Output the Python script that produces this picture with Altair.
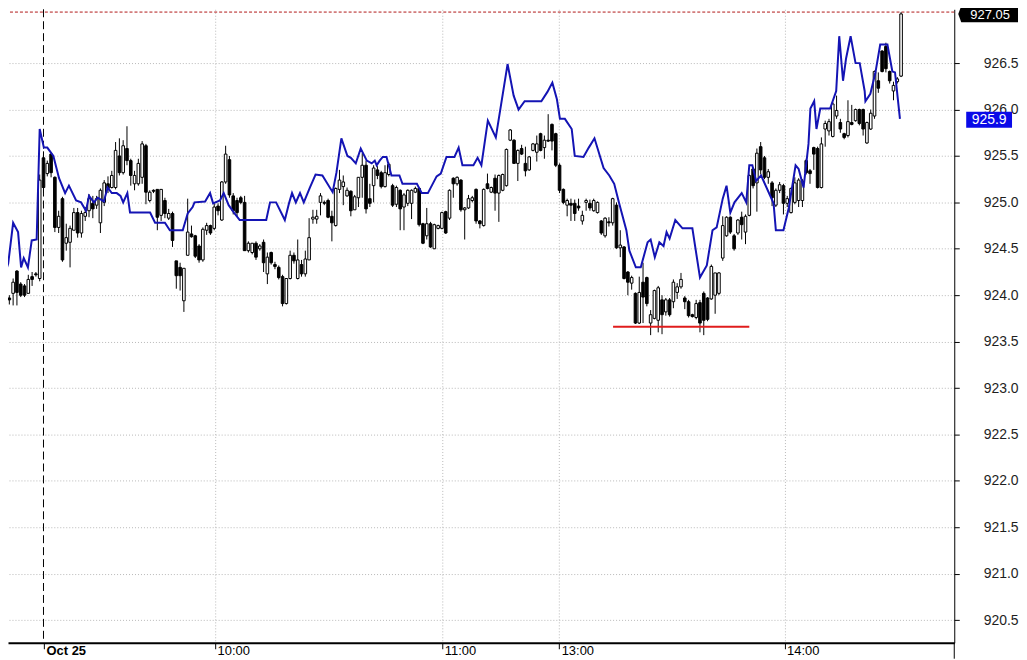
import altair as alt
import pandas as pd

# ---- one-minute candles (index 0 = first visible bar) ----
bar_open = [923.97, 924.02, 924.26, 924.12, 924.10, 924.02, 924.20, 924.23, 924.18, 925.48,
            925.31, 925.52, 925.27, 924.73, 925.04, 924.56, 924.57, 924.70, 924.89, 924.67,
            924.85, 924.91, 924.99, 924.97, 924.78, 925.00, 925.20, 925.16, 925.16, 925.50,
            925.32, 925.58, 925.45, 925.20, 925.20, 925.27, 925.61, 925.02, 925.13, 925.14,
            924.86, 925.02, 924.83, 924.88, 924.37, 924.30, 923.94, 924.43, 924.66, 924.64,
            924.53, 924.38, 924.70, 924.75, 924.72, 924.96, 924.81, 925.22, 925.46, 925.07,
            925.02, 925.05, 925.00, 924.48, 924.46, 924.56, 924.50, 924.57, 924.23, 924.46,
            924.33, 924.30, 924.20, 923.91, 924.18, 924.43, 924.18, 924.33, 924.23, 924.38,
            924.82, 924.82, 925.00, 925.00, 925.02, 924.85, 924.75, 925.14, 925.17, 925.07,
            925.12, 924.92, 925.05, 925.27, 925.40, 925.04, 925.18, 925.35, 925.32, 925.17,
            925.30, 925.18, 924.98, 925.13, 924.95, 924.99, 924.99, 925.11, 925.15, 924.77,
            924.64, 924.77, 924.50, 924.72, 924.72, 924.90, 924.83, 925.26, 925.20, 925.24,
            924.92, 924.94, 925.02, 925.14, 924.80, 924.75, 925.20, 925.11, 925.26, 925.10,
            925.13, 925.18, 925.67, 925.67, 925.42, 925.58, 925.42, 925.35, 925.56, 925.54,
            925.74, 925.59, 925.67, 925.84, 925.74, 925.40, 925.14, 924.97, 924.99, 924.99,
            924.96, 924.80, 925.00, 924.99, 924.91, 924.89, 924.80, 924.64, 924.79, 924.78,
            924.97, 924.51, 924.52, 924.25, 924.13, 924.02, 923.70, 924.14, 924.19, 923.70,
            923.75, 923.73, 923.95, 923.82, 923.95, 923.93, 924.03, 924.09, 923.97, 923.93,
            923.79, 923.76, 923.92, 924.02, 923.97, 923.96, 924.00, 924.02, 924.40, 924.64,
            924.84, 924.64, 924.67, 924.84, 924.68, 924.86, 925.36, 925.21, 925.60, 925.48,
            925.27, 925.21, 924.97, 925.13, 925.18, 924.99, 924.89, 925.00, 925.02, 925.02,
            925.45, 925.34, 925.59, 925.58, 925.16, 925.79, 925.77, 925.71, 925.93, 925.86,
            925.74, 925.72, 925.86, 925.88, 926.00, 926.00, 925.64, 925.79, 925.93, 926.31,
            926.63, 926.68, 926.41, 926.20, 926.30, 926.36]
bar_high = [924.00, 924.18, 924.27, 924.14, 924.12, 924.22, 924.25, 924.25, 925.30, 925.55,
            925.45, 925.54, 925.28, 924.91, 925.06, 924.77, 924.75, 924.94, 924.94, 924.91,
            924.95, 925.09, 925.07, 925.07, 925.15, 925.24, 925.28, 925.34, 925.65, 925.69,
            925.67, 925.82, 925.47, 925.34, 925.47, 925.66, 925.63, 925.13, 925.14, 925.14,
            925.14, 925.05, 924.93, 924.90, 924.37, 924.35, 924.29, 925.04, 924.75, 924.65,
            924.55, 924.73, 924.78, 924.76, 924.99, 924.99, 925.23, 925.61, 925.50, 925.10,
            925.05, 925.07, 925.07, 924.58, 924.56, 924.58, 924.55, 924.60, 924.46, 924.47,
            924.36, 924.32, 924.22, 924.18, 924.48, 924.46, 924.60, 924.38, 924.48, 924.83,
            924.92, 924.92, 925.10, 925.02, 925.04, 924.91, 925.16, 925.35, 925.29, 925.16,
            925.13, 925.08, 925.27, 925.53, 925.45, 925.20, 925.40, 925.39, 925.34, 925.40,
            925.43, 925.20, 925.18, 925.14, 925.10, 925.14, 925.14, 925.17, 925.16, 924.78,
            924.94, 924.79, 924.77, 924.76, 924.90, 924.91, 925.14, 925.27, 925.28, 925.25,
            924.95, 925.08, 925.07, 925.15, 924.81, 925.15, 925.31, 925.17, 925.30, 925.30,
            925.31, 925.58, 925.79, 925.68, 925.57, 925.62, 925.60, 925.50, 925.64, 925.72,
            925.75, 925.72, 925.95, 925.85, 925.75, 925.42, 925.15, 925.04, 925.04, 925.03,
            925.04, 924.91, 925.04, 925.03, 925.04, 925.01, 924.81, 924.84, 924.84, 925.05,
            925.00, 924.70, 924.53, 924.26, 924.21, 924.03, 924.20, 924.35, 924.20, 923.84,
            924.06, 924.10, 924.00, 923.97, 923.97, 924.17, 924.13, 924.24, 923.99, 923.95,
            923.80, 923.95, 923.95, 924.04, 923.98, 924.33, 924.24, 924.25, 924.85, 924.85,
            924.85, 924.66, 924.82, 924.90, 924.87, 925.30, 925.38, 925.58, 925.65, 925.50,
            925.36, 925.23, 925.15, 925.22, 925.20, 925.07, 925.16, 925.27, 925.26, 925.25,
            925.47, 925.36, 925.60, 925.60, 925.70, 925.88, 925.90, 926.08, 926.15, 925.90,
            925.75, 926.10, 926.05, 926.01, 926.01, 926.01, 925.87, 926.00, 926.42, 926.40,
            926.64, 926.72, 926.42, 926.30, 926.35, 927.05]
bar_low = [923.90, 923.89, 923.89, 923.98, 923.98, 924.02, 924.10, 924.20, 924.15, 925.10,
           925.28, 925.27, 924.68, 924.67, 924.36, 924.48, 924.30, 924.70, 924.62, 924.62,
           924.80, 924.84, 924.83, 924.93, 924.67, 924.96, 925.10, 925.15, 925.14, 925.29,
           925.30, 925.40, 925.18, 925.13, 925.18, 925.20, 924.98, 925.00, 925.10, 924.70,
           924.80, 924.83, 924.81, 924.52, 924.07, 924.05, 923.82, 924.43, 924.62, 924.40,
           924.35, 924.36, 924.65, 924.65, 924.70, 924.86, 924.80, 925.20, 925.05, 924.87,
           924.85, 924.98, 924.48, 924.46, 924.44, 924.38, 924.48, 924.25, 924.12, 924.33,
           924.28, 924.17, 923.88, 923.90, 924.17, 924.34, 924.17, 924.20, 924.20, 924.38,
           924.77, 924.77, 924.86, 924.97, 924.83, 924.58, 924.74, 925.10, 924.97, 925.06,
           924.85, 924.92, 924.95, 925.05, 924.88, 924.95, 925.00, 925.25, 925.15, 925.16,
           925.28, 924.95, 924.95, 924.70, 924.70, 924.96, 924.82, 925.10, 924.74, 924.55,
           924.60, 924.51, 924.50, 924.71, 924.71, 924.66, 924.81, 925.05, 925.18, 924.90,
           924.60, 924.93, 925.00, 924.77, 924.72, 924.74, 925.14, 925.10, 924.91, 924.79,
           925.12, 925.17, 925.66, 925.42, 925.23, 925.51, 925.28, 925.34, 925.55, 925.44,
           925.55, 925.47, 925.65, 925.56, 925.38, 925.10, 924.98, 924.85, 924.80, 924.80,
           924.91, 924.76, 924.91, 924.91, 924.90, 924.88, 924.65, 924.62, 924.74, 924.75,
           924.50, 924.41, 924.17, 924.00, 924.06, 923.69, 923.69, 923.70, 923.88, 923.57,
           923.74, 923.60, 923.58, 923.78, 923.77, 923.86, 923.96, 924.07, 923.85, 923.76,
           923.76, 923.74, 923.60, 923.57, 923.72, 923.95, 923.80, 924.00, 924.37, 924.63,
           924.66, 924.48, 924.65, 924.60, 924.55, 924.85, 925.15, 924.90, 925.30, 925.25,
           925.20, 924.96, 924.95, 925.10, 924.87, 924.95, 924.88, 924.98, 924.95, 924.95,
           925.30, 925.20, 925.35, 925.15, 925.15, 925.60, 925.72, 925.70, 925.90, 925.75,
           925.68, 925.70, 925.83, 925.87, 925.83, 925.72, 925.63, 925.78, 925.90, 926.18,
           926.40, 926.40, 926.28, 926.10, 926.28, 926.35]
bar_close = [923.95, 924.14, 924.03, 924.00, 924.00, 924.17, 924.17, 924.22, 925.24, 925.16,
             925.42, 925.32, 924.73, 924.85, 924.38, 924.62, 924.72, 924.89, 924.67, 924.88,
             924.89, 925.04, 924.93, 925.04, 925.13, 925.21, 925.15, 925.29, 925.56, 925.32,
             925.61, 925.45, 925.29, 925.29, 925.42, 925.63, 925.11, 925.11, 925.12, 924.84,
             925.14, 924.88, 924.88, 924.59, 924.21, 924.21, 924.29, 924.68, 924.63, 924.42,
             924.38, 924.71, 924.75, 924.67, 924.95, 924.91, 925.22, 925.52, 925.08, 924.91,
             924.89, 925.00, 924.48, 924.56, 924.56, 924.41, 924.53, 924.35, 924.41, 924.35,
             924.31, 924.19, 923.91, 924.18, 924.43, 924.37, 924.38, 924.23, 924.39, 924.62,
             924.84, 924.85, 925.07, 924.99, 924.84, 924.78, 925.15, 925.24, 925.22, 925.13,
             924.91, 925.06, 925.27, 925.40, 924.93, 924.99, 925.37, 925.29, 925.17, 925.32,
             925.41, 924.97, 925.16, 924.93, 925.08, 925.13, 925.13, 925.15, 924.76, 924.56,
             924.77, 924.52, 924.76, 924.75, 924.89, 924.67, 925.13, 925.20, 925.27, 924.92,
             924.94, 925.04, 925.05, 924.80, 924.77, 925.14, 925.15, 925.16, 925.10, 925.29,
             925.30, 925.57, 925.78, 925.42, 925.56, 925.52, 925.34, 925.49, 925.63, 925.63,
             925.56, 925.67, 925.66, 925.66, 925.40, 925.13, 925.00, 925.02, 924.97, 924.88,
             924.94, 924.86, 925.02, 924.94, 925.02, 925.00, 924.67, 924.83, 924.78, 925.04,
             924.51, 924.54, 924.18, 924.14, 924.19, 923.70, 924.03, 923.98, 923.91, 923.79,
             924.05, 924.08, 923.79, 923.95, 923.79, 924.14, 924.09, 924.17, 923.93, 923.78,
             923.77, 923.91, 923.70, 923.73, 923.74, 924.31, 924.24, 924.24, 924.75, 924.84,
             924.68, 924.50, 924.81, 924.76, 924.85, 925.29, 925.18, 925.53, 925.35, 925.27,
             925.33, 925.05, 925.13, 925.19, 924.99, 925.04, 925.15, 925.21, 925.24, 925.23,
             925.32, 925.31, 925.52, 925.16, 925.63, 925.85, 925.87, 926.06, 925.99, 925.79,
             925.70, 925.87, 925.84, 926.00, 925.85, 925.79, 925.86, 925.96, 926.41, 926.23,
             926.41, 926.44, 926.31, 926.26, 926.33, 927.03]

# ---- blue comparison line (bar position, value) ----
blue_pos = [-1.1, -0.3, 1.0, 2.3, 3.1, 3.8, 4.9, 5.9, 7.2, 8.0,
            9.1, 10.0, 11.6, 13.1, 14.7, 15.7, 17.6, 18.9, 20.2, 21.0,
            22.3, 23.3, 24.9, 25.9, 27.0, 28.3, 29.3, 30.0, 31.1, 31.8,
            37.1, 38.4, 41.0, 42.3, 45.7, 47.0, 48.3, 48.8, 51.6, 52.9,
            53.7, 55.5, 56.5, 57.8, 59.2, 60.7, 67.7, 68.7, 70.3, 72.6,
            73.7, 74.5, 75.5, 76.6, 77.6, 79.2, 80.7, 82.5, 85.2, 86.2,
            87.5, 89.1, 90.0, 91.3, 92.6, 94.2, 95.5, 96.3, 96.8, 97.6,
            98.4, 99.4, 100.7, 102.8, 103.6, 107.4, 108.7, 110.3, 112.6, 113.7,
            115.2, 117.3, 118.4, 119.4, 122.3, 123.4, 124.4, 126.1, 128.2, 131.3,
            132.9, 134.2, 135.8, 140.2, 141.8, 143.1, 144.3, 145.1, 146.4, 148.2,
            149.0, 151.3, 152.7, 154.2, 156.6, 158.1, 159.4, 160.7, 162.6, 163.4,
            165.1, 166.4, 168.2, 169.0, 170.1, 171.3, 172.4, 173.2, 174.0, 175.5,
            177.4, 180.0, 182.0, 183.8, 185.3, 186.4, 188.0, 189.0, 190.0, 191.1,
            193.0, 194.2, 195.0, 195.8, 196.8, 198.1, 201.4, 202.0, 204.0, 205.4,
            207.2, 208.0, 209.3, 210.6, 211.1, 212.1, 212.7, 213.7, 216.3, 217.9,
            218.7, 219.7, 220.5, 221.7, 223.0, 224.1, 225.4, 225.6, 226.9, 228.2,
            229.5, 231.4, 232.7, 233.4, 234.7]
blue_val = [924.24, 924.34, 924.78, 924.68, 924.30, 924.40, 924.30, 924.59, 924.60, 925.79,
            925.59, 925.59, 925.50, 925.26, 925.10, 925.18, 925.02, 925.00, 924.91, 925.07,
            925.00, 925.05, 925.01, 925.16, 925.10, 925.10, 925.07, 925.00, 925.10, 924.89,
            924.89, 924.78, 924.78, 924.70, 924.70, 924.88, 924.95, 925.00, 925.01, 925.10,
            924.99, 925.02, 925.10, 924.97, 924.89, 924.81, 924.81, 925.00, 925.00, 924.81,
            924.99, 925.10, 925.00, 925.10, 925.00, 925.16, 925.30, 925.29, 925.11, 925.32,
            925.69, 925.50, 925.48, 925.42, 925.58, 925.45, 925.42, 925.45, 925.40, 925.45,
            925.49, 925.49, 925.29, 925.29, 925.20, 925.20, 925.10, 925.10, 925.28, 925.31,
            925.49, 925.49, 925.59, 925.40, 925.40, 925.48, 925.40, 925.88, 925.70, 926.49,
            926.15, 926.00, 926.09, 926.09, 926.19, 926.29, 926.11, 925.90, 925.90, 925.79,
            925.50, 925.49, 925.59, 925.69, 925.37, 925.29, 925.20, 924.99, 924.70, 924.48,
            924.30, 924.30, 924.57, 924.60, 924.41, 924.57, 924.53, 924.68, 924.61, 924.81,
            924.72, 924.72, 924.19, 924.32, 924.70, 924.73, 925.04, 925.18, 924.89, 925.00,
            925.10, 925.00, 925.40, 925.40, 925.23, 925.29, 924.99, 924.70, 924.70, 924.94,
            925.40, 925.36, 925.16, 925.63, 926.01, 926.09, 925.79, 926.01, 926.01, 926.20,
            926.79, 926.31, 926.55, 926.79, 926.50, 926.50, 926.20, 926.09, 926.17, 926.39,
            926.70, 926.70, 926.41, 926.40, 925.90]

price_ticks = [920.5, 921.0, 921.5, 922.0, 922.5, 923.0, 923.5, 924.0, 924.5, 925.0,
               925.5, 926.0, 926.5]
time_tick_pos = [9.14, 54.2, 114.1, 144.9, 204.3]
time_tick_labels = ["Oct 25", "10:00", "11:00", "13:00", "14:00"]

session_start = [9]
support_price = [923.66]
support_from = [159.1]
support_to = [195.0]
last_high = [927.05]
last_high_label = ["927.05"]
blue_last = [925.9]
blue_last_label = ["925.9"]

x_domain = [0.96, 247.7]
y_domain = [920.256, 927.08]

FONT = "Liberation Sans"
VIEW_W, VIEW_H = 950, 636

bars = pd.DataFrame({"bar": list(range(len(bar_open))), "open": bar_open,
                     "high": bar_high, "low": bar_low, "close": bar_close})
blue = pd.DataFrame({"bar": blue_pos, "value": blue_val})

xs = alt.Scale(domain=x_domain, nice=False, zero=False)
ys = alt.Scale(domain=y_domain, nice=False, zero=False)

mids = [round((time_tick_pos[i] + time_tick_pos[i + 1]) / 2, 2) for i in range(len(time_tick_pos) - 1)]
label_expr = "".join(f"datum.value < {m} ? '{lab}' : " for m, lab in zip(mids, time_tick_labels)) \
    + f"'{time_tick_labels[-1]}'"
first_test = f"datum.value < {mids[0]}"

x_axis = alt.Axis(
    values=time_tick_pos, labelExpr=label_expr, orient="bottom", title=None,
    grid=True, gridColor="#b8b8b8", gridDash=[1, 2], gridWidth=1,
    gridOpacity={"condition": {"test": first_test, "value": 0}, "value": 1},
    domainColor="black", domainWidth=2, tickColor="black", tickSize=6, tickWidth=1,
    labelAlign="left", labelBaseline="middle", labelPadding=2, labelOffset=2,
    labelFont=FONT, labelFontSize=13, labelColor="black",
    labelFontWeight={"condition": {"test": first_test, "value": "bold"}, "value": "normal"},
    labelFlush=False, labelOverlap=False, zindex=0)

y_axis = alt.Axis(
    values=price_ticks, format=".1f", orient="right", title=None,
    grid=True, gridColor="#b8b8b8", gridDash=[1, 2], gridWidth=1,
    domainColor="black", domainWidth=1, tickColor="black", tickSize=5,
    labelAlign="left", labelBaseline="middle", labelPadding=24,
    labelFont=FONT, labelFontSize=14, labelColor="#1e1e1e",
    labelFlush=False, labelOverlap=False, zindex=0)


def X(field):
    return alt.X(field, scale=xs, axis=x_axis)


def Y(field):
    return alt.Y(field, scale=ys, axis=y_axis)


base = alt.Chart(bars)
wicks = base.mark_rule(color="black", strokeWidth=1, clip=True).encode(
    x=X("bar:Q"), y=Y("low:Q"), y2="high:Q")
bodies = base.mark_bar(size=2.6, stroke="black", strokeWidth=1, clip=True).encode(
    x=X("bar:Q"), y=Y("open:Q"), y2="close:Q",
    fill=alt.condition("datum.close >= datum.open", alt.value("white"), alt.value("black")))

day_line = alt.Chart(pd.DataFrame({"x": session_start})).mark_rule(
    color="black", strokeWidth=1, strokeDash=[8, 4]).encode(x=X("x:Q"))

hi_line = alt.Chart(pd.DataFrame({"y": last_high})).mark_rule(
    color="#b01818", strokeWidth=1, strokeDash=[3, 2]).encode(y=Y("y:Q"))

blue_line = alt.Chart(blue).mark_line(color="#1414b4", strokeWidth=2, clip=True).encode(
    x=X("bar:Q"), y=Y("value:Q"))

support = alt.Chart(pd.DataFrame({"x1": support_from, "x2": support_to, "y": support_price})).mark_rule(
    color="#e01c1c", strokeWidth=2).encode(x=X("x1:Q"), x2="x2:Q", y=Y("y:Q"))

# the price axis line continues below the time axis, as in the original terminal
axis_tail = alt.Chart(pd.DataFrame({"x": [0]})).mark_rule(color="black", strokeWidth=1).encode(
    x=alt.value(VIEW_W), y=alt.value(VIEW_H), y2=alt.value(VIEW_H + 16))

hi_df = pd.DataFrame({"y": last_high, "label": last_high_label})
hi_tag = alt.Chart(hi_df).mark_point(
    shape="M -1 0 L -0.9 -0.27 L 1 -0.27 L 1 0.27 L -0.9 0.27 Z",
    filled=True, color="black", opacity=1, size=3600, yOffset=2).encode(
    x=alt.value(984), y=Y("y:Q"))
hi_text = alt.Chart(hi_df).mark_text(
    color="white", font=FONT, fontSize=13, align="center", baseline="middle", dy=3).encode(
    x=alt.value(986), y=Y("y:Q"), text="label:N")

bl_df = pd.DataFrame({"y": blue_last, "label": blue_last_label})
bl_tag = alt.Chart(bl_df).mark_point(
    shape="M -1 -0.35 L 1 -0.35 L 1 0.35 L -1 0.35 Z",
    filled=True, color="#0a0ae8", opacity=1, size=2116, yOffset=1).encode(
    x=alt.value(985), y=Y("y:Q"))
bl_text = alt.Chart(bl_df).mark_text(
    color="white", font=FONT, fontSize=14, align="center", baseline="middle", dy=1).encode(
    x=alt.value(985), y=Y("y:Q"), text="label:N")

chart = alt.layer(
    wicks, bodies, day_line, hi_line, blue_line, support, axis_tail,
    hi_tag, hi_text, bl_tag, bl_text
).properties(
    width=VIEW_W, height=VIEW_H,
    autosize=alt.AutoSizeParams(type="none"),
    padding={"left": 0, "top": 0, "right": 65, "bottom": 16},
    background="white",
).configure_view(stroke=None)

chart.save("out.html", embed_options={"renderer": "svg", "actions": False})
